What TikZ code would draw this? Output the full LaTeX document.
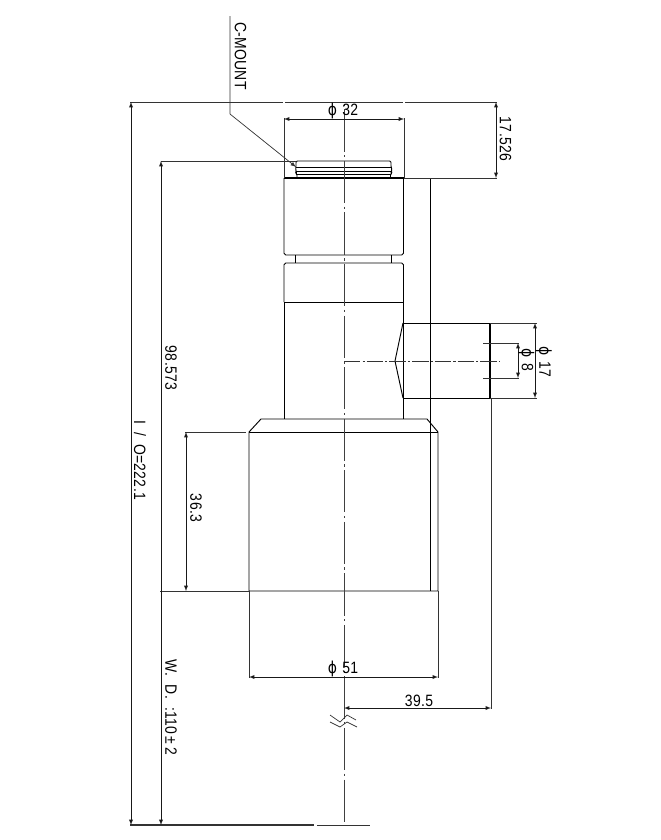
\documentclass[tikz,border=0pt]{standalone}
\usepackage{fontspec}
\setmainfont[FakeStretch=0.85,LetterSpace=2]{Liberation Sans}
\newfontfamily\phifont[FakeStretch=0.85]{DejaVu Sans}
\newcommand{\diam}{{\phifont\symbol{"03D5}}}
\usetikzlibrary{arrows,positioning}

\begin{document}
\begin{tikzpicture}[x=0.03cm, y=-0.03cm]
% Define styles
\tikzstyle{outline} = [line width=0.8pt, line join=round, black]
\tikzstyle{thin line} = [line width=0.6pt, black!80]
\tikzstyle{dim} = [line width=0.6pt, black!90, latex-latex, >=latex]
\tikzstyle{axis} = [line width=0.6pt, black!75, dash pattern=on 36pt off 3pt on 2pt off 3pt, dash phase=36pt]
\tikzstyle{axis short} = [line width=0.6pt, black!80, dash pattern=on 14pt off 1.8pt on 1.8pt off 1.8pt]
\tikzstyle{label} = [font=\fontsize{14}{16}\selectfont, inner sep=0pt, rotate=-90]
\tikzstyle{hlabel} = [font=\fontsize{14}{16}\selectfont, inner sep=0pt]

\useasboundingbox (0,0) rectangle (660,840);

% Lens body
\draw [outline, rounded corners=1pt] (297,178) -- (297,174) -- (295.5,173) -- (296.5,172) -- (295.5,169.5) -- (296,167) -- (296,161) -- (391,161) -- (391,167) -- (392,169.5) -- (391,172) -- (392,173) -- (390.5,174) -- (390.5,178);
\draw [outline] (296,167) -- (391,167);
\draw [outline] (296,171.7) -- (391,171.7);
\draw [outline] (296,174) -- (391,174);
\draw [outline, rounded corners=1.5pt] (284,178) -- (284,255) -- (403.5,255) -- (403.5,178);
\draw [line width=1pt] (284,178) -- (403.5,178);
\draw [outline] (295,255) -- (295,263);
\draw [outline] (391,255) -- (391,263);
\draw [outline, rounded corners=1.5pt] (284,302) -- (284,263) -- (403.5,263) -- (403.5,302);
\draw [outline] (284,302) -- (403.5,302);
\draw [outline] (284,302) -- (284,419);
\draw [outline] (403,302) -- (403,419);
\draw [outline] (261,419) -- (427,419) -- (438,432) -- (438,591) -- (249,591) -- (249,432) -- cycle;
\draw [outline] (249,432) -- (438,432);
\draw [outline] (430,178) -- (430,591);
\draw [outline] (403.5,178) -- (430,178);

% Side port
\draw [outline] (403,323) -- (490,323);
\draw [outline] (403,398) -- (490,398);
\draw [outline] (403,323) -- (395,361) -- (403,398);
\draw [line width=1.2pt] (490,323) -- (490,398);

% Center lines
\draw [axis] (344,100) -- (344,825);
\draw [axis short] (344,361) -- (499,361);

% Break mark
\draw [thin line] (330,715) -- (340,722) -- (347,715) -- (356,720);
\draw [thin line] (330,722) -- (340,727) -- (347,722) -- (357,727);

% Extension lines
\draw [thin line] (130,102) -- (283,102);
\draw [thin line] (285,102) -- (403,102);
\draw [thin line] (405,102) -- (497,102);
\draw [thin line] (404,178) -- (497,178);
\draw [thin line] (161,161) -- (296,161);
\draw [thin line] (284,118) -- (284,178);
\draw [thin line] (404,118) -- (404,178);
\draw [thin line] (490,323) -- (537,323);
\draw [thin line] (490,398) -- (537,398);
\draw [thin line] (483,343) -- (519,343);
\draw [thin line] (483,378) -- (519,378);
\draw [thin line] (185,432) -- (246,432);
\draw [thin line] (160,591) -- (249,591);
\draw [thin line] (249,591) -- (249,678);
\draw [thin line] (438,591) -- (438,678);
\draw [thin line] (491,398) -- (491,709);
\draw [line width=0.9pt, black!80] (130,825) -- (314,825);
\draw [thin line] (317,825) -- (370,825);

% Dimension lines
\draw [dim] (131,102) -- (131,825);
\draw [dim] (161,161) -- (161,825);
\draw [dim] (186,432) -- (186,591);
\draw [dim] (284,119) -- (404,119);
\draw [dim] (496,102) -- (496,178);
\draw [dim] (535,323) -- (535,398);
\draw [dim] (518,343) -- (518,378);
\draw [dim] (249,677) -- (438,677);
\draw [dim] (344,708) -- (491,708);

% Leader
\draw [thin line, -latex] (230,16) -- (230,114) -- (296,167);

% Labels
\node (cmount) [label] at (240.5,56) {C-MOUNT};
\node (dtop) [hlabel] at (343,110.5) {\diam\,\,32};
\node (dflange) [label] at (505.5,139) {17.526};
\node (dlen) [label] at (171,368) {98.573};
\node (dio) [label] at (140,460) {I\,\,\,/\,\,\,O=222.1};
\node (dfront) [label] at (196,508) {36.3};
\node (dwd) [label] at (171,707.5) {W.\,\,\,D.\,\,\,:110\,±\,2};
\node (dport) [label] at (544,362) {\diam\,\,17};
\node (dbore) [label] at (526.5,360) {\diam\,\,8};
\node (dbody) [hlabel] at (343,669) {\diam\,\,51};
\node (doff) [hlabel] at (419,700.5) {39.5};
\end{tikzpicture}
\end{document}
